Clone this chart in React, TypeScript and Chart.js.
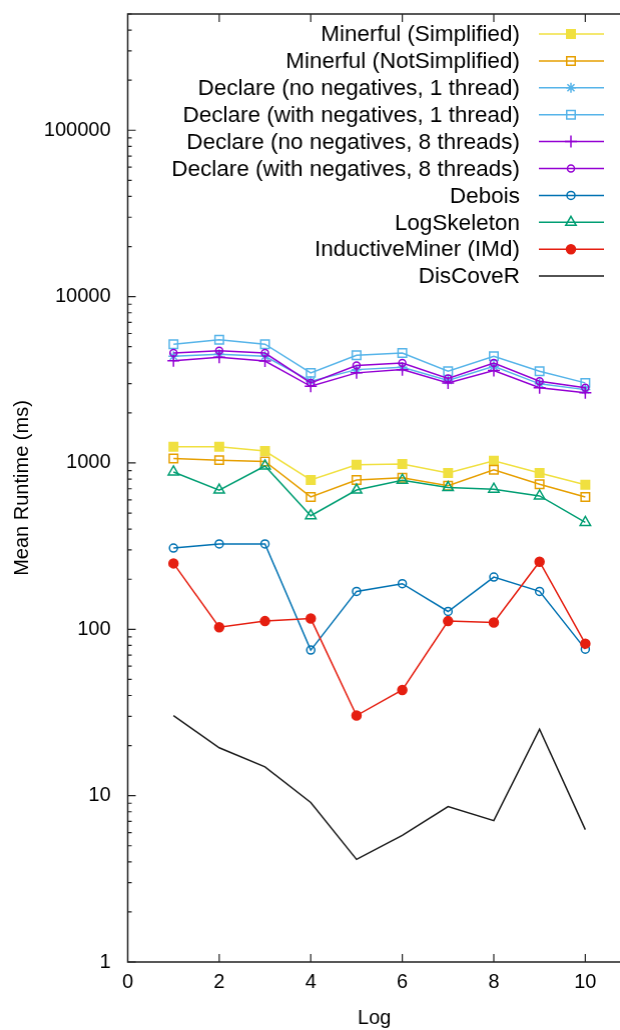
import React, { useEffect, useRef } from 'react';
import { Chart, registerables } from 'chart.js';
import { drawPoint } from 'chart.js/helpers';

Chart.register(...registerables);

const logs = [1, 2, 3, 4, 5, 6, 7, 8, 9, 10];
const xTicks = [0, 2, 4, 6, 8, 10];
const yTicks = [1, 10, 100, 1000, 10000, 100000];

const minerfulSimplified = [1250, 1250, 1180, 790, 975, 985, 870, 1030, 870, 740];
const minerfulNotSimplified = [1065, 1040, 1020, 625, 790, 815, 730, 910, 745, 625];
const declareNoNeg1 = [4380, 4510, 4380, 3100, 3640, 3760, 3130, 3810, 2990, 2760];
const declareWithNeg1 = [5180, 5510, 5180, 3480, 4440, 4580, 3560, 4380, 3560, 3030];
const declareNoNeg8 = [4120, 4320, 4100, 2890, 3480, 3640, 3030, 3590, 2830, 2640];
const declareWithNeg8 = [4580, 4730, 4580, 3030, 3850, 3990, 3220, 3990, 3100, 2830];
const debois = [308, 326, 326, 75, 169, 188, 128, 206, 169, 76];
const logSkeleton = [883, 687, 959, 482, 687, 788, 711, 695, 634, 439];
const inductiveMiner = [249, 103, 112, 116, 30.3, 43.2, 112, 110, 255, 82];
const discover = [30.3, 19.4, 14.9, 9.1, 4.14, 5.77, 8.6, 7.08, 25.1, 6.25];

const FONT = '"Liberation Sans", Arial, sans-serif';

const framePlugin = {
  id: 'gnuFrame',
  beforeDatasetsDraw(chart: any) {
    const { ctx, chartArea } = chart;
    const { left, right, top, bottom } = chartArea;
    const xs = chart.scales.x;
    const ys = chart.scales.y;
    ctx.save();
    ctx.strokeStyle = '#222';
    ctx.lineWidth = 1.5;
    ctx.beginPath();
    ctx.moveTo(right + 2, top);
    ctx.lineTo(left, top);
    ctx.lineTo(left, bottom);
    ctx.lineTo(right + 2, bottom);
    ctx.stroke();
    ctx.lineWidth = 1.2;
    ctx.beginPath();
    for (let d = 0; d <= 5; d++) {
      for (let m = 1; m <= 9; m++) {
        const v = m * Math.pow(10, d);
        if (v > ys.max) break;
        const py = ys.getPixelForValue(v);
        const len = m === 1 ? 8 : 4;
        ctx.moveTo(left, py);
        ctx.lineTo(left + len, py);
      }
    }
    xTicks.forEach((t) => {
      if (t === 0) return;
      const px = xs.getPixelForValue(t);
      ctx.moveTo(px, bottom);
      ctx.lineTo(px, bottom - 8);
      ctx.moveTo(px, top);
      ctx.lineTo(px, top + 8);
    });
    ctx.stroke();
    ctx.restore();
  },
  afterDraw(chart: any) {
    const c = chart.ctx;
    chart.data.datasets.forEach((ds: any, i: number) => {
      const y = 34 + i * 26.9;
      c.save();
      c.font = '22.5px ' + FONT;
      c.fillStyle = '#000';
      c.textAlign = 'right';
      c.textBaseline = 'middle';
      c.fillText(ds.label, 519, y + 1);
      c.strokeStyle = ds.borderColor;
      c.lineWidth = 1.5;
      c.beginPath();
      c.moveTo(538, y);
      c.lineTo(603, y);
      c.stroke();
      if (ds.pointRadius > 0) {
        c.fillStyle = ds.backgroundColor;
        c.strokeStyle = ds.borderColor;
        c.lineWidth = 1.5;
        drawPoint(c, { pointStyle: ds.pointStyle, radius: ds.pointRadius, borderWidth: 1.5, rotation: 0 } as any, 570, y);
      }
      c.restore();
    });
  },
};

const zeroPad = (s: any) => {
  s.paddingTop = 0;
  s.paddingBottom = 0;
  s.paddingLeft = 0;
  s.paddingRight = 0;
};

export default function App() {
  const ref = useRef<HTMLCanvasElement>(null);
  useEffect(() => {
    const canvas = ref.current;
    if (!canvas) return;
    const mk = (label: string, values: number[], color: string, style: any, radius: number, filled: boolean, idx: number) => ({
      label,
      data: logs.map((x, i) => ({ x, y: values[i] })),
      borderColor: color,
      backgroundColor: filled ? color : 'rgba(0,0,0,0)',
      pointStyle: style,
      pointRadius: radius,
      pointHoverRadius: radius,
      pointBorderWidth: 1.5,
      borderWidth: 1.5,
      tension: 0,
      order: 20 - idx,
    });
    const datasets = [
      mk('Minerful (Simplified)', minerfulSimplified, '#f0e040', 'rect', 6, true, 0),
      mk('Minerful (NotSimplified)', minerfulNotSimplified, '#e69f00', 'rect', 6, false, 1),
      mk('Declare (no negatives, 1 thread)', declareNoNeg1, '#56b4e9', 'star', 5, false, 2),
      mk('Declare (with negatives, 1 thread)', declareWithNeg1, '#56b4e9', 'rect', 6, false, 3),
      mk('Declare (no negatives, 8 threads)', declareNoNeg8, '#9400d3', 'cross', 6, false, 4),
      mk('Declare (with negatives, 8 threads)', declareWithNeg8, '#9400d3', 'circle', 3.5, false, 5),
      mk('Debois', debois, '#0072b2', 'circle', 4, false, 6),
      mk('LogSkeleton', logSkeleton, '#009e73', 'triangle', 6, false, 7),
      mk('InductiveMiner (IMd)', inductiveMiner, '#e51e10', 'circle', 4.5, true, 8),
      mk('DisCoveR', discover, '#1a1a1a', 'circle', 0, false, 9),
    ];
    const chart = new Chart(canvas, {
      type: 'line',
      data: { datasets },
      plugins: [framePlugin],
      options: {
        animation: false,
        responsive: true,
        maintainAspectRatio: false,
        layout: { padding: { top: 14, right: 0, left: 0, bottom: 0 } },
        plugins: { legend: { display: false }, tooltip: { enabled: false } },
        scales: {
          x: {
            type: 'linear',
            min: 0,
            max: 10.78,
            grid: { display: false, drawTicks: false, tickLength: 0 },
            border: { display: false },
            afterBuildTicks: (s: any) => { s.ticks = xTicks.map((v) => ({ value: v })); },
            afterFit: (s: any) => { s.height = 68; zeroPad(s); },
            ticks: { color: '#000', font: { family: FONT, size: 20 }, padding: 8, maxRotation: 0, autoSkip: false, callback: (v: any) => String(v) },
            title: { display: true, text: 'Log', color: '#000', font: { family: FONT, size: 20 }, padding: { top: 0, bottom: 0 } },
          },
          y: {
            type: 'logarithmic',
            min: 1,
            max: 500000,
            grid: { display: false, drawTicks: false, tickLength: 0 },
            border: { display: false },
            afterBuildTicks: (s: any) => { s.ticks = yTicks.map((v) => ({ value: v })); },
            afterFit: (s: any) => { s.width = 127.5; zeroPad(s); },
            ticks: { color: '#000', font: { family: FONT, size: 20 }, padding: 17, autoSkip: false, callback: (v: any) => String(v) },
            title: { display: true, text: 'Mean Runtime (ms)', color: '#000', font: { family: FONT, size: 20 }, padding: { top: 10, bottom: 0 } },
          },
        },
      },
    });
    return () => chart.destroy();
  }, []);
  return (
    <div style={{ position: 'absolute', left: 0, top: 0, width: 620, height: 1030, overflow: 'hidden', background: '#fff' }}>
      <div style={{ position: 'absolute', left: 0, top: 0, width: 627.5, height: 1030 }}>
        <canvas ref={ref} />
      </div>
    </div>
  );
}
